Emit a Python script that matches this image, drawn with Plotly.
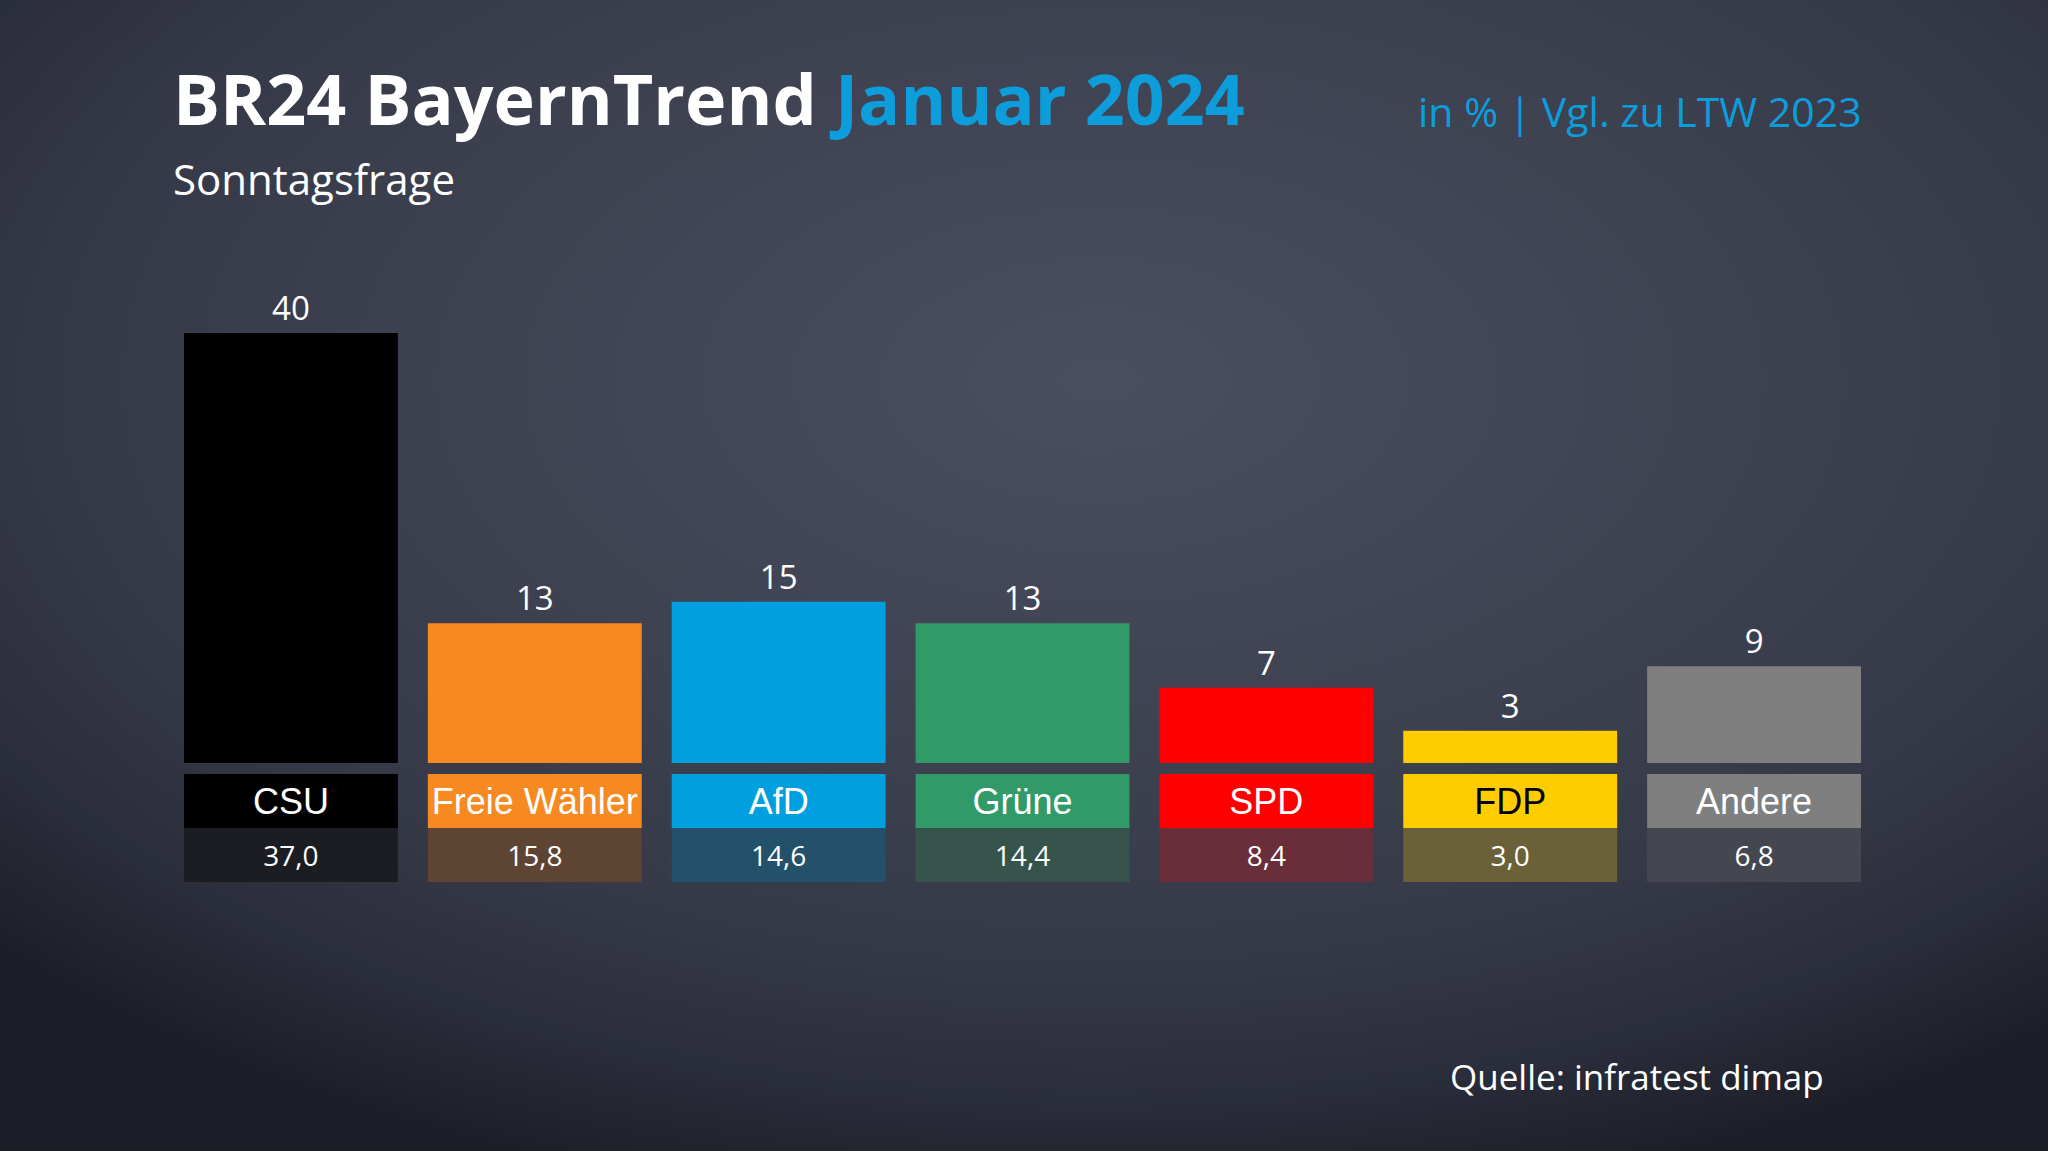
import base64
import plotly.graph_objects as go

# ---- data ----
parties = ["CSU", "Freie Wähler", "AfD", "Grüne", "SPD", "FDP", "Andere"]
poll_values = [40, 13, 15, 13, 7, 3, 9]
ltw_2023 = [37.0, 15.8, 14.6, 14.4, 8.4, 3.0, 6.8]
party_colors = ["#000000", "#f68a21", "#009fe0", "#319a68", "#ff0000", "#ffcc00", "#7f7f7f"]
compare_colors = ["#1b1d23", "#5d4433", "#235169", "#36544b", "#6a2d3a", "#6b6138", "#454750"]
label_text_colors = ["#ffffff", "#ffffff", "#ffffff", "#ffffff", "#ffffff", "#000000", "#ffffff"]

title_main = "BR24 BayernTrend"
title_accent = "Januar 2024"
subtitle = "Sonntagsfrage"
unit_note = "in % | Vgl. zu LTW 2023"
source_note = "Quelle: infratest dimap"

W, H = 2048, 1151
FONT = "Open Sans"
ACCENT = "#0e9ddb"

# layout constants (axis units)
Y_MIN = -11.07
LABEL_BASE, LABEL_H = -1.02, -5.03
CMP_BASE, CMP_H = -6.05, -5.02

# ---- background gradient as inline SVG ----
svg = f"""<svg xmlns='http://www.w3.org/2000/svg' width='{W}' height='{H}' viewBox='0 0 {W} {H}' preserveAspectRatio='none'>
<defs><radialGradient id='g' gradientUnits='userSpaceOnUse' cx='1100' cy='380' r='1500'
 gradientTransform='translate(1100 380) scale(1 0.56) translate(-1100 -380)'>
<stop offset='0' stop-color='#4a4e5f'/>
<stop offset='0.68' stop-color='#363a48'/>
<stop offset='0.78' stop-color='#30333f'/>
<stop offset='0.86' stop-color='#2a2d3a'/>
<stop offset='1' stop-color='#1c1e27'/>
</radialGradient></defs>
<rect width='{W}' height='{H}' fill='url(#g)'/></svg>"""
bg_src = "data:image/svg+xml;base64," + base64.b64encode(svg.encode()).decode()

fig = go.Figure()

# main bars with value labels above
fig.add_trace(go.Bar(
    x=parties, y=poll_values, marker_color=party_colors, marker_line_width=0,
    text=[str(v) for v in poll_values], textposition="outside",
    textfont=dict(family=FONT, size=33, color="#ffffff"),
    cliponaxis=False, hoverinfo="skip", constraintext="none",
))
# party label boxes
fig.add_trace(go.Bar(
    x=parties, y=[LABEL_H] * len(parties), base=[LABEL_BASE] * len(parties),
    marker_color=party_colors, marker_line_width=0,
    text=parties, textposition="inside", insidetextanchor="middle", textangle=0,
    textfont=dict(family="Liberation Sans, Arial", size=36, color=label_text_colors),
    hoverinfo="skip", constraintext="none",
))
# comparison value boxes (LTW 2023)
fig.add_trace(go.Bar(
    x=parties, y=[CMP_H] * len(parties), base=[CMP_BASE] * len(parties),
    marker_color=compare_colors, marker_line_width=0,
    text=[f"{v:.1f}".replace(".", ",") for v in ltw_2023],
    textposition="inside", insidetextanchor="middle", textangle=0,
    textfont=dict(family=FONT, size=28, color="#ffffff"),
    hoverinfo="skip", constraintext="none",
))

fig.update_layout(
    width=W, height=H, margin=dict(l=0, r=0, t=0, b=0),
    paper_bgcolor="#2a2d3a", plot_bgcolor="rgba(0,0,0,0)",
    barmode="overlay", bargap=0.123, showlegend=False,
    xaxis=dict(domain=[169 / W, 1876 / W], showgrid=False, zeroline=False,
               showticklabels=False, showline=False, fixedrange=True),
    yaxis=dict(domain=[1 - 882 / H, 1 - 333 / H], range=[Y_MIN, 40], showgrid=False,
               zeroline=False, showticklabels=False, showline=False, fixedrange=True),
    images=[dict(source=bg_src, xref="paper", yref="paper", x=0, y=1, sizex=1, sizey=1,
                 xanchor="left", yanchor="top", sizing="stretch", layer="below")],
    annotations=[
        dict(text=f"<b>{title_main} <span style='color:{ACCENT}'>{title_accent}</span></b>",
             xref="paper", yref="paper", x=171 / W, y=1 - 98 / H, xanchor="left", yanchor="middle",
             showarrow=False, font=dict(family=FONT, size=70, color="#ffffff")),
        dict(text=subtitle, xref="paper", yref="paper", x=171 / W, y=1 - 178 / H,
             xanchor="left", yanchor="middle", showarrow=False,
             font=dict(family=FONT, size=42, color="#ffffff")),
        dict(text=unit_note, xref="paper", yref="paper", x=1864 / W, y=1 - 111 / H,
             xanchor="right", yanchor="middle", showarrow=False,
             font=dict(family=FONT, size=41, color=ACCENT)),
        dict(text=source_note, xref="paper", yref="paper", x=1826 / W, y=1 - 1076 / H,
             xanchor="right", yanchor="middle", showarrow=False,
             font=dict(family=FONT, size=35, color="#ffffff")),
    ],
)

fig.write_html("out.html", config={"displayModeBar": False},
               post_script="document.body.style.margin='0';document.body.style.overflow='hidden';")
